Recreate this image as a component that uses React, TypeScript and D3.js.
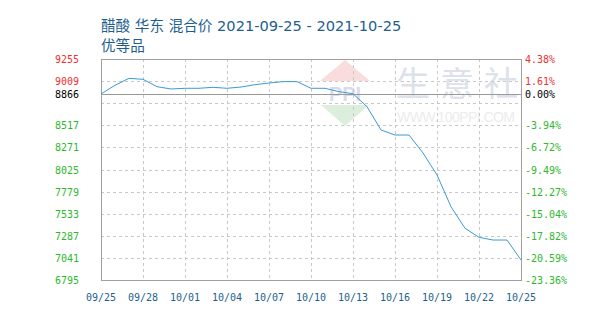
import React from "react";
import * as d3 from "d3";

const title1 = "醋酸 华东 混合价 2021-09-25 - 2021-10-25";
const title2 = "优等品";
const startDate = "2021-09-25";
const prices = [
  8866, 8962, 9040, 9029, 8947, 8921, 8929, 8929, 8940, 8929,
  8943, 8969, 8988, 9003, 9003, 8929, 8929, 8891, 8869, 8724,
  8465, 8409, 8409, 8209, 7964, 7611, 7371, 7270, 7240, 7240, 7018,
];
const basePrice = 8866;
const yTicks = [9255, 9009, 8866, 8517, 8271, 8025, 7779, 7533, 7287, 7041, 6795];
const gridValues = [9009, 8763, 8517, 8271, 8025, 7779, 7533, 7287, 7041];
const pctLabels = ["4.38%", "1.61%", "0.00%", "-3.94%", "-6.72%", "-9.49%", "-12.27%", "-15.04%", "-17.82%", "-20.59%", "-23.36%"];
const xTickLabels = ["09/25", "09/28", "10/01", "10/04", "10/07", "10/10", "10/13", "10/16", "10/19", "10/22", "10/25"];

const W = 613, H = 311;
const L = 101, R = 521, T = 59, B = 280;

export default function App() {
  const parse = d3.timeParse("%Y-%m-%d");
  const start = parse(startDate) as Date;
  const dates = prices.map((_, i) => d3.timeDay.offset(start, i));
  const x = d3.scaleTime().domain([dates[0], dates[dates.length - 1]]).range([L, R]);
  const y = d3.scaleLinear().domain([6795, 9255]).range([B, T]);
  const line = d3.line<number>().x((_, i) => x(dates[i])).y((d) => y(d));
  const xTicks = xTickLabels.map((_, i) => d3.timeDay.offset(start, i * 3));
  const mono = "'DejaVu Sans Mono', monospace";
  const titleFont = "'DejaVu Sans', 'Noto Sans CJK SC', sans-serif";
  const colorFor = (v: number) => (v > basePrice ? "#f03030" : v < basePrice ? "#2db82d" : "#000");
  return (
    <svg width={W} height={H} style={{ position: "absolute", left: 0, top: 0 }}>
      <rect width={W} height={H} fill="#fff" />
      <text x={101} y={31} fontSize={14.6} fill="#1e5f8e" fontFamily={titleFont}>{title1}</text>
      <text x={101} y={51} fontSize={14.6} fill="#1e5f8e" fontFamily={titleFont}>{title2}</text>
      {/* watermark */}
      <g>
        <path d="M345,60 L370,81 L320,81 Z" fill="#f9dcdc" />
        <path d="M321,105 L369,105 L345,126 Z" fill="#dcefdc" />
        <text x={345} y={101} textAnchor="middle" fontSize={20} fontWeight="bold" fill="#d8dcea" fontFamily="Arial, 'Liberation Sans', sans-serif">PPI</text>
        <text x={396} y={96} fontSize={34} fill="#dde1eb" fontFamily="'Noto Sans CJK SC', sans-serif" letterSpacing={10}>生意社</text>
        <text x={397} y={122} fontSize={14} fill="#ececec" fontFamily="'Liberation Sans', Arial, sans-serif" textLength={118}>WWW.100PPI.COM</text>
      </g>
      {gridValues.map((v) => (
        <line key={"h" + v} x1={L} x2={R} y1={Math.round(y(v)) + 0.5} y2={Math.round(y(v)) + 0.5} stroke="#c8c8c8" strokeDasharray="3,3" />
      ))}
      {xTicks.slice(1, -1).map((d, i) => (
        <line key={"v" + i} x1={Math.round(x(d)) + 0.5} x2={Math.round(x(d)) + 0.5} y1={T} y2={B} stroke="#c8c8c8" strokeDasharray="3,3" />
      ))}
      <line x1={L} x2={R} y1={Math.round(y(basePrice)) + 0.5} y2={Math.round(y(basePrice)) + 0.5} stroke="#999" />
      <rect x={L + 0.5} y={T + 0.5} width={R - L} height={B - T} fill="none" stroke="#a0a0a0" />
      <path d={line(prices) || ""} fill="none" stroke="#3c9ad6" strokeWidth={1} />
      {yTicks.map((v, i) => (
        <g key={"yt" + v}>
          <text x={79} y={y(v) + 4} textAnchor="end" fontSize={10} fill={colorFor(v)} fontFamily={mono}>{v}</text>
          <text x={525} y={y(v) + 4} fontSize={10} fill={colorFor(v)} fontFamily={mono}>{pctLabels[i]}</text>
        </g>
      ))}
      {xTicks.map((d, i) => (
        <text key={"xt" + i} x={x(d)} y={301} textAnchor="middle" fontSize={10} fill="#1e5f8e" fontFamily={mono}>{xTickLabels[i]}</text>
      ))}
    </svg>
  );
}
